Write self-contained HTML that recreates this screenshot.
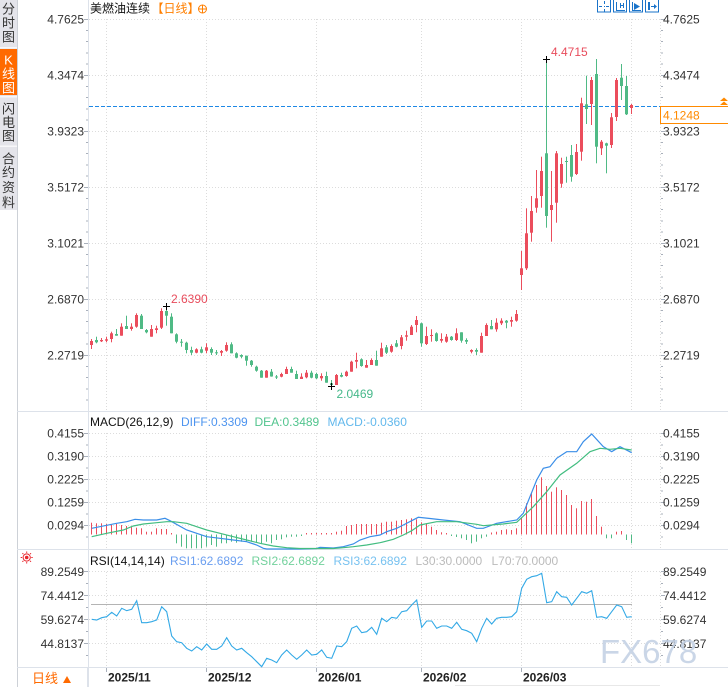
<!DOCTYPE html>
<html><head><meta charset="utf-8"><style>
html,body{margin:0;padding:0;background:#fff;}
body{width:728px;height:687px;overflow:hidden;position:relative;}
svg{position:absolute;left:0;top:0;}
text{font-family:"Liberation Sans","Noto Sans CJK SC",sans-serif;font-size:12px;}
</style></head><body>
<svg width="728" height="687" viewBox="0 0 728 687" xmlns="http://www.w3.org/2000/svg">
<rect x="0" y="0" width="728" height="687" fill="#fff"/>
<!-- sidebar -->
<rect x="0" y="0" width="17" height="210" fill="#e4e4ea"/>
<rect x="0" y="49" width="17" height="46" fill="#ff6a00"/>
<g fill="#f7f7f9"><rect x="0" y="47" width="17" height="1.5"/><rect x="0" y="96" width="17" height="1.5"/><rect x="0" y="145.5" width="17" height="1.5"/></g>
<line x1="17.5" y1="0" x2="17.5" y2="687" stroke="#cdd1d7"/>
<g font-size="13" text-anchor="middle" fill="#333">
<text x="8.5" y="13.5" style="font-size:13px">分</text><text x="8.5" y="27.5" style="font-size:13px">时</text><text x="8.5" y="41.5" style="font-size:13px">图</text>
<text x="8.5" y="64.5" style="font-size:13px" fill="#fff">K</text><text x="8.5" y="78.5" style="font-size:13px" fill="#fff">线</text><text x="8.5" y="92.5" style="font-size:13px" fill="#fff">图</text>
<text x="8.5" y="113.5" style="font-size:13px">闪</text><text x="8.5" y="127" style="font-size:13px">电</text><text x="8.5" y="140.5" style="font-size:13px">图</text>
<text x="8.5" y="163.5" style="font-size:13px">合</text><text x="8.5" y="177" style="font-size:13px">约</text><text x="8.5" y="192" style="font-size:13px">资</text><text x="8.5" y="207" style="font-size:13px">料</text>
</g>
<!-- frame lines -->
<g stroke="#dde2ea" shape-rendering="crispEdges">
<line x1="88.5" y1="0" x2="88.5" y2="687"/>
<line x1="17" y1="411.5" x2="728" y2="411.5"/>
<line x1="17" y1="549.5" x2="728" y2="549.5"/>
<line x1="17" y1="667.5" x2="728" y2="667.5"/>
<line x1="455" y1="685.5" x2="660" y2="685.5" stroke="#e8e8e8"/>
</g>
<!-- grid -->
<g stroke="#dcdcdc" stroke-dasharray="1,2" shape-rendering="crispEdges">
<path d="M89 19.5H660M89 75.5H660M89 131.5H660M89 187.5H660M89 243.5H660M89 299.5H660M89 355.5H660"/>
<path d="M89 433.5H660M89 456.5H660M89 479.5H660M89 502.5H660M89 525.5H660"/>
<path d="M89 571.5H660M89 595.5H660M89 619.5H660M89 643.5H660"/>
<path d="M106.5 19V411M206.5 19V411M316.5 19V411M421.5 19V411M521.5 19V411M631.5 19V411M660.5 19V411"/>
<path d="M106.5 433V549M206.5 433V549M316.5 433V549M421.5 433V549M521.5 433V549M631.5 433V549M660.5 433V549"/>
<path d="M106.5 572V667M206.5 572V667M316.5 572V667M421.5 572V667M521.5 572V667M631.5 572V667M660.5 572V667"/>
</g>
<!-- ticks -->
<g stroke="#a9b0bb" shape-rendering="crispEdges">
<path d="M84 19.5H88M84 75.5H88M84 131.5H88M84 187.5H88M84 243.5H88M84 299.5H88M84 355.5H88M84 433.5H88M84 456.5H88M84 479.5H88M84 502.5H88M84 525.5H88M84 571.5H88M84 595.5H88M84 619.5H88M84 643.5H88"/>
<path d="M86 30.5H88M86 41.5H88M86 53H88M86 64H88M86 86.5H88M86 97.5H88M86 109H88M86 120H88M86 142.5H88M86 153.5H88M86 165H88M86 176H88M86 198.5H88M86 209.5H88M86 221H88M86 232H88M86 254.5H88M86 265.5H88M86 277H88M86 288H88M86 310.5H88M86 321.5H88M86 333H88M86 344H88M86 366.5H88M86 377.5H88M86 389H88M86 400H88M86 445H88M86 468H88M86 491H88M86 514H88M86 537H88M86 583.5H88M86 607.5H88M86 631.5H88M86 655.5H88"/>
<path d="M661 19.5H665M661 75.5H665M661 131.5H665M661 187.5H665M661 243.5H665M661 299.5H665M661 355.5H665M661 433.5H665M661 456.5H665M661 479.5H665M661 502.5H665M661 525.5H665M661 571.5H665M661 595.5H665M661 619.5H665M661 643.5H665"/>
<path d="M661 30.5H663M661 41.5H663M661 53H663M661 64H663M661 86.5H663M661 97.5H663M661 142.5H663M661 153.5H663M661 165H663M661 176H663M661 198.5H663M661 209.5H663M661 221H663M661 232H663M661 254.5H663M661 265.5H663M661 277H663M661 288H663M661 310.5H663M661 321.5H663M661 333H663M661 344H663M661 366.5H663M661 377.5H663M661 389H663M661 400H663M661 445H663M661 468H663M661 491H663M661 514H663M661 537H663M661 583.5H663M661 607.5H663M661 631.5H663M661 655.5H663"/>
<path d="M106.5 668V672M206.5 668V672M316.5 668V672M421.5 668V672M521.5 668V672"/>
</g>
<!-- title -->
<text x="90" y="12.5" fill="#111">美燃油连续</text>
<text x="151.5" y="12.5" fill="#ff7f00">【日线】</text>
<circle cx="202.5" cy="9" r="4" fill="none" stroke="#ff7f00"/>
<path d="M198.5 9H206.5M202.5 5V13" stroke="#ff7f00"/>
<!-- toolbar icons -->
<g fill="none" stroke="#1a73c9" shape-rendering="crispEdges">
<rect x="597.5" y="-0.5" width="13" height="12.5"/>
<rect x="613.5" y="-0.5" width="13" height="12.5"/>
<rect x="629.5" y="-0.5" width="13" height="12.5"/>
<rect x="645.5" y="-0.5" width="13" height="12.5"/>
<path d="M599 6.5H602M606 6.5H609M604.5 1V4M604.5 9V12M604 6.5H605"/>
<path d="M616.5 2V10.5H625M620.5 3V8M623.5 3V8M620.5 5.5H623.5"/>
<path d="M632.5 2V10.5H641"/>
<path d="M648.5 2V10M649.5 2V10M651 6.5H656"/>
</g>
<path d="M634 3L640 6.5L634 10Z" fill="#1a73c9"/>
<path d="M654 4L657 6.5L654 9Z" fill="#1a73c9"/>
<!-- axis labels -->
<g fill="#333" text-anchor="end">
<text x="84" y="23.5">4.7625</text><text x="84" y="79.5">4.3474</text><text x="84" y="135.5">3.9323</text><text x="84" y="191.5">3.5172</text><text x="84" y="247.5">3.1021</text><text x="84" y="303.5">2.6870</text><text x="84" y="359.5">2.2719</text>
<text x="84" y="437.5">0.4155</text><text x="84" y="460.5">0.3190</text><text x="84" y="483.5">0.2225</text><text x="84" y="506.5">0.1259</text><text x="84" y="529.5">0.0294</text>
<text x="84" y="576">89.2549</text><text x="84" y="600">74.4412</text><text x="84" y="624">59.6274</text><text x="84" y="648">44.8137</text>
</g>
<g fill="#333">
<text x="663" y="23.5">4.7625</text><text x="663" y="79.5">4.3474</text><text x="663" y="135.5">3.9323</text><text x="663" y="191.5">3.5172</text><text x="663" y="247.5">3.1021</text><text x="663" y="303.5">2.6870</text><text x="663" y="359.5">2.2719</text>
<text x="663" y="437.5">0.4155</text><text x="663" y="460.5">0.3190</text><text x="663" y="483.5">0.2225</text><text x="663" y="506.5">0.1259</text><text x="663" y="529.5">0.0294</text>
<text x="663" y="576">89.2549</text><text x="663" y="600">74.4412</text><text x="663" y="624">59.6274</text><text x="663" y="648">44.8137</text>
</g>
<!-- current price -->
<line x1="89" y1="106.5" x2="660" y2="106.5" stroke="#1e88e5" stroke-dasharray="4,2"/>
<rect x="660.5" y="106.5" width="70" height="17" fill="#fff" stroke="#ff8a00"/>
<text x="663" y="119.5" fill="#ff8a00">4.1248</text>
<path d="M720 101L724 97.5L728 101ZM720 105L724 101.5L728 105Z" fill="#ff8a00"/>
<!-- candles red -->
<g fill="#eb4d5c">
<rect x="91" y="339" width="1" height="10"/><rect x="90" y="341" width="3" height="4"/>
<rect x="101" y="338" width="1" height="4"/><rect x="100" y="340" width="3" height="1.3"/>
<rect x="106" y="336.7" width="1" height="5.6"/><rect x="105" y="339.3" width="3" height="1.4"/>
<rect x="111" y="331.7" width="1" height="10.6"/><rect x="110" y="333.3" width="3" height="5.7"/>
<rect x="121" y="323.3" width="1" height="12.4"/><rect x="120" y="326.7" width="3" height="9"/>
<rect x="131" y="323.3" width="1" height="7.4"/><rect x="130" y="326.7" width="3" height="2.3"/>
<rect x="136" y="313.3" width="1" height="14.4"/><rect x="135" y="315" width="3" height="11.7"/>
<rect x="151" y="325" width="1" height="11.7"/><rect x="150" y="329" width="3" height="7.7"/>
<rect x="156" y="325.7" width="1" height="7.6"/><rect x="155" y="328.3" width="3" height="1.7"/>
<rect x="161" y="308.3" width="1" height="20.7"/><rect x="160" y="311" width="3" height="16.7"/>
<rect x="196" y="348.3" width="1" height="5"/><rect x="195" y="349.3" width="3" height="3.4"/>
<rect x="206" y="343.3" width="1" height="10"/><rect x="205" y="347.3" width="3" height="3.4"/>
<rect x="221" y="350" width="1" height="6"/><rect x="220" y="351" width="3" height="1.7"/>
<rect x="226" y="342.3" width="1" height="9.4"/><rect x="225" y="345" width="3" height="5.7"/>
<rect x="266" y="370" width="1" height="7.7"/><rect x="265" y="370.7" width="3" height="7"/>
<rect x="281" y="372.7" width="1" height="4.6"/><rect x="280" y="374" width="3" height="2.7"/>
<rect x="286" y="366.7" width="1" height="7.3"/><rect x="285" y="369" width="3" height="5"/>
<rect x="301" y="373.3" width="1" height="5.7"/><rect x="300" y="376.7" width="3" height="2.3"/>
<rect x="306" y="370" width="1" height="8.3"/><rect x="305" y="372.7" width="3" height="4.6"/>
<rect x="321" y="373.3" width="1" height="7.4"/><rect x="320" y="376" width="3" height="2.3"/>
<rect x="336" y="374" width="1" height="11"/><rect x="335" y="375" width="3" height="10"/>
<rect x="346" y="370.7" width="1" height="6"/><rect x="345" y="371.7" width="3" height="4.3"/>
<rect x="351" y="360.7" width="1" height="11"/><rect x="350" y="361.7" width="3" height="10"/>
<rect x="356" y="352.7" width="1" height="15.6"/><rect x="355" y="360" width="3" height="1.7"/>
<rect x="366" y="360" width="1" height="7.7"/><rect x="365" y="365" width="3" height="2.7"/>
<rect x="371" y="358.3" width="1" height="6.7"/><rect x="370" y="360" width="3" height="5"/>
<rect x="381" y="342.7" width="1" height="14"/><rect x="380" y="348.3" width="3" height="8.4"/>
<rect x="391" y="344.3" width="1" height="8.4"/><rect x="390" y="346" width="3" height="5.7"/>
<rect x="401" y="335" width="1" height="14.3"/><rect x="400" y="337.3" width="3" height="8.7"/>
<rect x="406" y="330.7" width="1" height="10"/><rect x="405" y="335.3" width="3" height="1.4"/>
<rect x="411" y="325" width="1" height="10"/><rect x="410" y="326.7" width="3" height="8.3"/>
<rect x="416" y="316" width="1" height="16.3"/><rect x="415" y="320" width="3" height="5"/>
<rect x="426" y="326.7" width="1" height="18.3"/><rect x="425" y="336" width="3" height="8"/>
<rect x="431" y="329.3" width="1" height="12.4"/><rect x="430" y="335" width="3" height="1"/>
<rect x="441" y="333.3" width="1" height="9.4"/><rect x="440" y="339" width="3" height="1.7"/>
<rect x="446" y="334" width="1" height="8.7"/><rect x="445" y="336.7" width="3" height="5"/>
<rect x="456" y="328.3" width="1" height="12.7"/><rect x="455" y="333.3" width="3" height="6.7"/>
<rect x="471" y="349.3" width="1" height="4"/><rect x="470" y="350" width="3" height="1.7"/>
<rect x="481" y="332.7" width="1" height="20"/><rect x="480" y="336" width="3" height="16.7"/>
<rect x="486" y="323.3" width="1" height="12.7"/><rect x="485" y="325" width="3" height="11"/>
<rect x="496" y="318.3" width="1" height="13.4"/><rect x="495" y="322.7" width="3" height="6.6"/>
<rect x="501" y="318.3" width="1" height="6.7"/><rect x="500" y="320.7" width="3" height="2.6"/>
<rect x="511" y="316.7" width="1" height="10"/><rect x="510" y="320" width="3" height="1.7"/>
<rect x="516" y="310" width="1" height="11.7"/><rect x="515" y="314" width="3" height="6.7"/>
<rect x="521" y="251" width="1" height="39"/><rect x="520" y="268.3" width="3" height="6.7"/>
<rect x="526" y="208.3" width="1" height="61.7"/><rect x="525" y="233.3" width="3" height="35"/>
<rect x="531" y="196" width="1" height="45.7"/><rect x="530" y="211" width="3" height="21.7"/>
<rect x="536" y="170" width="1" height="42.7"/><rect x="535" y="198.3" width="3" height="9.4"/>
<rect x="541" y="156.7" width="1" height="51"/><rect x="540" y="171" width="3" height="25"/>
<rect x="551" y="171" width="1" height="70.7"/><rect x="550" y="205" width="3" height="5"/>
<rect x="556" y="151" width="1" height="71.7"/><rect x="555" y="153.3" width="3" height="49.4"/>
<rect x="561" y="157.7" width="1" height="30"/><rect x="560" y="164" width="3" height="19.7"/>
<rect x="576" y="144" width="1" height="31"/><rect x="575" y="152" width="3" height="22"/>
<rect x="581" y="97.7" width="1" height="63"/><rect x="580" y="103.3" width="3" height="48.4"/>
<rect x="591" y="77" width="1" height="48"/><rect x="590" y="80" width="3" height="24"/>
<rect x="601" y="140" width="1" height="15"/><rect x="600" y="141.7" width="3" height="6.6"/>
<rect x="611" y="113" width="1" height="35"/><rect x="610" y="117.3" width="3" height="27.7"/>
<rect x="616" y="78" width="1" height="43"/><rect x="615" y="80" width="3" height="37"/>
<rect x="631" y="104" width="1" height="10"/><rect x="630" y="105" width="3" height="3"/>
</g>
<!-- candles green -->
<g fill="#4fba85">
<rect x="96" y="336.7" width="1" height="6.6"/><rect x="95" y="340" width="3" height="2.3"/>
<rect x="116" y="329" width="1" height="6.7"/><rect x="115" y="334" width="3" height="1.7"/>
<rect x="126" y="315.7" width="1" height="13.3"/><rect x="125" y="326" width="3" height="3"/>
<rect x="141" y="314" width="1" height="15"/><rect x="140" y="315.7" width="3" height="13.3"/>
<rect x="146" y="329" width="1" height="4.3"/><rect x="145" y="330" width="3" height="2.3"/>
<rect x="166" y="306.7" width="1" height="19"/><rect x="165" y="311" width="3" height="4.7"/>
<rect x="171" y="313.3" width="1" height="20"/><rect x="170" y="316.7" width="3" height="16.6"/>
<rect x="176" y="333.3" width="1" height="10"/><rect x="175" y="334.3" width="3" height="7.4"/>
<rect x="181" y="339" width="1" height="7.7"/><rect x="180" y="341.7" width="3" height="1"/>
<rect x="186" y="341.7" width="1" height="11.6"/><rect x="185" y="342.7" width="3" height="7.3"/>
<rect x="191" y="346.7" width="1" height="8.3"/><rect x="190" y="350" width="3" height="2.7"/>
<rect x="201" y="346.7" width="1" height="6.6"/><rect x="200" y="349.3" width="3" height="3.4"/>
<rect x="211" y="347.3" width="1" height="7.7"/><rect x="210" y="349" width="3" height="3.7"/>
<rect x="216" y="350" width="1" height="5"/><rect x="215" y="352.3" width="3" height="1"/>
<rect x="231" y="342.3" width="1" height="11"/><rect x="230" y="344.3" width="3" height="9"/>
<rect x="236" y="352.3" width="1" height="6"/><rect x="235" y="353.3" width="3" height="4.4"/>
<rect x="241" y="354.3" width="1" height="4"/><rect x="240" y="355" width="3" height="1.7"/>
<rect x="246" y="355.7" width="1" height="10"/><rect x="245" y="355.7" width="3" height="5"/>
<rect x="251" y="360" width="1" height="6.7"/><rect x="250" y="360.7" width="3" height="4.3"/>
<rect x="256" y="365.7" width="1" height="6"/><rect x="255" y="366.7" width="3" height="4"/>
<rect x="261" y="370" width="1" height="7.7"/><rect x="260" y="370.7" width="3" height="7"/>
<rect x="271" y="369" width="1" height="7.7"/><rect x="270" y="371.7" width="3" height="4.8"/>
<rect x="276" y="375" width="1" height="4"/><rect x="275" y="376.5" width="3" height="1"/>
<rect x="291" y="366.7" width="1" height="6"/><rect x="290" y="369" width="3" height="3.7"/>
<rect x="296" y="370.7" width="1" height="8.3"/><rect x="295" y="374" width="3" height="5"/>
<rect x="311" y="370.7" width="1" height="7.6"/><rect x="310" y="372.7" width="3" height="5"/>
<rect x="316" y="372.7" width="1" height="6.3"/><rect x="315" y="374" width="3" height="4.3"/>
<rect x="326" y="371.7" width="1" height="11"/><rect x="325" y="376" width="3" height="6.7"/>
<rect x="331" y="380" width="1" height="6.7"/><rect x="330" y="383.3" width="3" height="1.7"/>
<rect x="341" y="372.7" width="1" height="4.6"/><rect x="340" y="375" width="3" height="1.7"/>
<rect x="361" y="358.3" width="1" height="8.4"/><rect x="360" y="359.3" width="3" height="6.7"/>
<rect x="376" y="350.7" width="1" height="15"/><rect x="375" y="360" width="3" height="5.7"/>
<rect x="386" y="345" width="1" height="9"/><rect x="385" y="347.3" width="3" height="5.4"/>
<rect x="396" y="340" width="1" height="7.3"/><rect x="395" y="343.3" width="3" height="3.4"/>
<rect x="421" y="322.7" width="1" height="24"/><rect x="420" y="323.3" width="3" height="20"/>
<rect x="436" y="332.3" width="1" height="9.4"/><rect x="435" y="333.3" width="3" height="7.7"/>
<rect x="451" y="336" width="1" height="4.7"/><rect x="450" y="336.7" width="3" height="3.3"/>
<rect x="461" y="332.3" width="1" height="10.4"/><rect x="460" y="332.3" width="3" height="8.4"/>
<rect x="466" y="338.3" width="1" height="5.7"/><rect x="465" y="340" width="3" height="1.7"/>
<rect x="476" y="348.3" width="1" height="6.7"/><rect x="475" y="350" width="3" height="1.7"/>
<rect x="491" y="320" width="1" height="9.3"/><rect x="490" y="326" width="3" height="3.3"/>
<rect x="506" y="320" width="1" height="8.3"/><rect x="505" y="320.7" width="3" height="2"/>
<rect x="546" y="59" width="1" height="168.7"/><rect x="545" y="153.3" width="3" height="62.7"/>
<rect x="566" y="156.7" width="1" height="26"/><rect x="565" y="161" width="3" height="1"/>
<rect x="571" y="145" width="1" height="36.7"/><rect x="570" y="155" width="3" height="21.7"/>
<rect x="586" y="75.7" width="1" height="48.3"/><rect x="585" y="104.3" width="3" height="4.7"/>
<rect x="596" y="59" width="1" height="104.3"/><rect x="595" y="74" width="3" height="72.7"/>
<rect x="606" y="142.7" width="1" height="30.6"/><rect x="605" y="143.3" width="3" height="2.4"/>
<rect x="621" y="64" width="1" height="36"/><rect x="620" y="77.7" width="3" height="8.3"/>
<rect x="626" y="76" width="1" height="39"/><rect x="625" y="86" width="3" height="28.3"/>
</g>
<!-- max/min markers -->
<g stroke="#000" shape-rendering="crispEdges">
<path d="M543 59.5H550M546.5 56V63"/>
<path d="M163 306.5H170M166.5 303V310"/>
<path d="M328 386.5H335M331.5 383V390"/>
</g>
<text x="551" y="56" fill="#e84c5c">4.4715</text>
<text x="171" y="303" fill="#e84c5c">2.6390</text>
<text x="336.5" y="398" fill="#45b88a">2.0469</text>
<!-- MACD header -->
<text x="90" y="426" fill="#111">MACD(26,12,9)</text>
<text x="181" y="426" fill="#4d94ef">DIFF:0.3309</text>
<text x="254.5" y="426" fill="#52c48e">DEA:0.3489</text>
<text x="327.5" y="426" fill="#62b8ec">MACD:-0.0360</text>
<!-- MACD histogram -->
<g fill="#eb4d5c">
<rect x="91" y="522.7" width="1" height="11.8"/><rect x="96" y="523.3" width="1" height="11.2"/><rect x="101" y="523.3" width="1" height="11.2"/><rect x="106" y="524" width="1" height="10.5"/><rect x="111" y="525" width="1" height="9.5"/><rect x="116" y="524" width="1" height="10.5"/><rect x="121" y="525" width="1" height="9.5"/><rect x="126" y="526" width="1" height="8.5"/><rect x="131" y="526.7" width="1" height="7.8"/><rect x="136" y="527.7" width="1" height="6.8"/><rect x="141" y="528.3" width="1" height="6.2"/><rect x="146" y="531.7" width="1" height="2.8"/><rect x="151" y="531.7" width="1" height="2.8"/><rect x="156" y="528.3" width="1" height="6.2"/><rect x="161" y="529" width="1" height="5.5"/><rect x="166" y="529" width="1" height="5.5"/><rect x="171" y="533" width="1" height="1.5"/>
<rect x="306" y="533" width="1" height="1.5"/><rect x="311" y="533" width="1" height="1.5"/><rect x="316" y="533" width="1" height="1.5"/><rect x="321" y="533" width="1" height="1.5"/><rect x="326" y="533" width="1" height="1.5"/><rect x="331" y="533" width="1" height="1.5"/><rect x="336" y="531.7" width="1" height="2.8"/><rect x="341" y="530.7" width="1" height="3.8"/><rect x="346" y="526" width="1" height="8.5"/><rect x="351" y="525" width="1" height="9.5"/><rect x="356" y="524" width="1" height="10.5"/><rect x="361" y="524" width="1" height="10.5"/><rect x="366" y="524" width="1" height="10.5"/><rect x="371" y="524" width="1" height="10.5"/><rect x="376" y="524" width="1" height="10.5"/><rect x="381" y="522.7" width="1" height="11.8"/><rect x="386" y="521.7" width="1" height="12.8"/><rect x="391" y="521.7" width="1" height="12.8"/><rect x="396" y="520.7" width="1" height="13.8"/><rect x="401" y="520" width="1" height="14.5"/><rect x="406" y="519.3" width="1" height="15.2"/><rect x="411" y="518.3" width="1" height="16.2"/><rect x="416" y="519.3" width="1" height="15.2"/><rect x="421" y="522.3" width="1" height="12.2"/><rect x="426" y="523.3" width="1" height="11.2"/><rect x="431" y="526.7" width="1" height="7.8"/><rect x="436" y="530" width="1" height="4.5"/><rect x="441" y="532.3" width="1" height="2.2"/><rect x="446" y="533" width="1" height="1.5"/>
<rect x="491" y="532.5" width="1" height="2"/><rect x="496" y="531.7" width="1" height="2.8"/><rect x="501" y="530" width="1" height="4.5"/><rect x="506" y="529.3" width="1" height="5.2"/><rect x="511" y="530" width="1" height="4.5"/><rect x="516" y="528.3" width="1" height="6.2"/><rect x="521" y="517.3" width="1" height="17.2"/><rect x="526" y="503.3" width="1" height="31.2"/><rect x="531" y="493.3" width="1" height="41.2"/><rect x="536" y="485" width="1" height="49.5"/><rect x="541" y="477.3" width="1" height="57.2"/><rect x="546" y="486" width="1" height="48.5"/><rect x="551" y="491.7" width="1" height="42.8"/><rect x="556" y="487.3" width="1" height="47.2"/><rect x="561" y="490" width="1" height="44.5"/><rect x="566" y="495" width="1" height="39.5"/><rect x="571" y="505" width="1" height="29.5"/><rect x="576" y="508.3" width="1" height="26.2"/><rect x="581" y="501" width="1" height="33.5"/><rect x="586" y="501.7" width="1" height="32.8"/><rect x="591" y="499" width="1" height="35.5"/><rect x="596" y="516" width="1" height="18.5"/><rect x="601" y="526.7" width="1" height="7.8"/><rect x="616" y="531.7" width="1" height="2.8"/><rect x="621" y="531" width="1" height="3.5"/>
</g>
<g fill="#4fba85">
<rect x="176" y="534.5" width="1" height="8.8"/><rect x="181" y="534.5" width="1" height="12.2"/><rect x="186" y="534.5" width="1" height="13.8"/><rect x="191" y="534.5" width="1" height="13.8"/><rect x="196" y="534.5" width="1" height="13.8"/><rect x="201" y="534.5" width="1" height="13.8"/><rect x="206" y="534.5" width="1" height="12.2"/><rect x="211" y="534.5" width="1" height="10.5"/><rect x="216" y="534.5" width="1" height="12.2"/><rect x="221" y="534.5" width="1" height="8.8"/><rect x="226" y="534.5" width="1" height="8.8"/><rect x="231" y="534.5" width="1" height="7.2"/><rect x="236" y="534.5" width="1" height="8.2"/><rect x="241" y="534.5" width="1" height="7.2"/><rect x="246" y="534.5" width="1" height="7.2"/><rect x="251" y="534.5" width="1" height="7.2"/><rect x="256" y="534.5" width="1" height="8.2"/><rect x="261" y="534.5" width="1" height="8.8"/><rect x="266" y="534.5" width="1" height="7.2"/><rect x="271" y="534.5" width="1" height="8.8"/><rect x="276" y="534.5" width="1" height="5.5"/><rect x="281" y="534.5" width="1" height="4.8"/><rect x="286" y="534.5" width="1" height="2.8"/><rect x="291" y="534.5" width="1" height="2.2"/><rect x="296" y="534.5" width="1" height="2.2"/><rect x="301" y="534.5" width="1" height="1.5"/>
<rect x="451" y="534.5" width="1" height="1.5"/><rect x="456" y="534.5" width="1" height="2.5"/><rect x="461" y="534.5" width="1" height="3.8"/><rect x="466" y="534.5" width="1" height="5.5"/><rect x="471" y="534.5" width="1" height="8.8"/><rect x="476" y="534.5" width="1" height="7.2"/><rect x="481" y="534.5" width="1" height="3.8"/><rect x="486" y="534.5" width="1" height="2.2"/>
<rect x="606" y="534.5" width="1" height="3.8"/><rect x="611" y="534.5" width="1" height="3.8"/><rect x="626" y="534.5" width="1" height="5.5"/><rect x="631" y="534.5" width="1" height="8.8"/>
</g>
<!-- DIFF / DEA -->
<polyline fill="none" stroke="#3a8ee8" stroke-width="1.2" points="91.7,528.3 116.7,523.3 126.7,521.7 135,519.3 143.3,520 156.7,520 165,518.3 170,520.7 186.7,530 196.7,533.3 206.7,536.7 220,538.3 233.3,540 246.7,541.7 256.7,545 263.3,548.3 266.7,549 300,549 316.7,548.5 320,547.3 333.3,548 343.3,546.7 353.3,544 360,540 370,536.7 380,535 386.7,531.7 396.7,528.3 403.3,525 411.7,520.7 418.3,517.3 430,518.5 443.3,520 460,521.7 476.7,528.3 483.3,528.3 496.7,523.3 516.7,520 523.3,513.3 536.7,480 543.3,468.3 550,466.7 556.7,458.3 566.7,451.7 576.7,451.7 583.3,441.7 591.7,434 603.3,446.7 611.7,451.7 620,446.7 631.7,452.7"/>
<polyline fill="none" stroke="#42bd80" stroke-width="1.2" points="91.7,536.7 106.7,533.3 123.3,530 133.3,526 143.3,524 156.7,522.7 166.7,521.7 173.3,521.7 186.7,523.3 196.7,526.7 206.7,530 220,533.3 233.3,536.7 246.7,540 260,543.3 273.3,546 286.7,547.7 300,548.5 333.3,548.5 343.3,547.7 353.3,546.7 366.7,545 380,542.7 393.3,539.3 403.3,535 411.7,530.7 420,525 436.7,521.7 456.7,521.7 476.7,524.3 483.3,525.7 503,524 516.7,522.3 533.3,506.7 546.7,491.7 560,475 576.7,463.3 590,451.7 600,448.3 610,449.3 620,448.3 631.7,450"/>
<!-- RSI header -->
<g transform="translate(26.7,557.5)" stroke="#e8232a" fill="none">
<circle r="3.6" stroke-width="1"/><circle r="1.8" fill="#e8232a" stroke="none"/>
<path d="M0 -6V-4.6M0 4.6V6M-6 0H-4.6M4.6 0H6M-4.3 -4.3L-3.3 -3.3M3.3 3.3L4.3 4.3M4.3 -4.3L3.3 -3.3M-3.3 3.3L-4.3 4.3"/>
</g>
<text x="90" y="565" fill="#111">RSI(14,14,14)</text>
<text x="170" y="565" fill="#6a9ef0">RSI1:62.6892</text>
<text x="251.5" y="565" fill="#72d19c">RSI2:62.6892</text>
<text x="333.5" y="565" fill="#78c2f0">RSI3:62.6892</text>
<text x="415.5" y="565" fill="#bbb">L30:30.0000</text>
<text x="491.5" y="565" fill="#bbb">L70:70.0000</text>
<line x1="91" y1="604.5" x2="632" y2="604.5" stroke="#b4b4b4"/>
<polyline fill="none" stroke="#33a9e6" stroke-width="1.1" points="91.7,619.3 96.7,620 101.7,617.7 106.7,616.7 111.7,612.3 116.7,616 121.7,608.3 126.7,610.7 131.7,609.3 136.7,600.7 141.7,622.7 146.7,622.7 151.7,621.7 156.7,620 161.7,606.7 166.7,611.7 171.7,636 176.7,641.7 181.7,642.7 186.7,648.3 191.7,651 196.7,646.7 201.7,650 206.7,644 211.7,649.3 216.7,649.3 221.7,646 226.7,637.7 231.7,646 236.7,650 241.7,648.3 246.7,652.7 251.7,656.7 256.7,661.7 261.7,666.7 266.7,658.3 271.7,660 276.7,662.7 281.7,655 286.7,650 291.7,655 296.7,659.3 301.7,655 306.7,650 311.7,655 316.7,654.3 321.7,650 326.7,657.3 331.7,658.3 336.7,646 341.7,646.7 346.7,641.7 351.7,628.3 356.7,626 361.7,632.7 366.7,631.7 371.7,627.3 376.7,634.3 381.7,618.3 386.7,621.7 391.7,617.3 396.7,618.3 401.7,611.7 406.7,610.7 411.7,605 416.7,600 421.7,627.3 426.7,621 431.7,621 436.7,628.3 441.7,626 446.7,626 451.7,628.3 456.7,622.3 461.7,629.3 466.7,630.7 471.7,633.3 476.7,641.7 481.7,628.3 486.7,618.3 491.7,624 496.7,618.3 501.7,617.3 506.7,617.3 511.7,616.7 516.7,611.7 521.7,588.3 526.7,579.3 531.7,576.7 536.7,575.7 541.7,573.3 546.7,602.7 551.7,601.7 556.7,591.7 561.7,596.7 566.7,597.3 571.7,605 576.7,598.3 581.7,591.7 586.7,593.3 591.7,590.7 596.7,617.3 601.7,616.7 606.7,618.3 611.7,611.7 616.7,605 621.7,606.7 626.7,617.3 631.7,616.7"/>
<!-- watermark -->
<text x="600" y="663" fill="#c4d1e4" fill-opacity="0.9" style="font-size:33px">FX678</text>
<!-- date axis -->
<line x1="87.5" y1="668" x2="87.5" y2="687" stroke="#dde2ea"/>
<g fill="#222" font-weight="bold">
<text x="108" y="681.5" font-weight="bold">2025/11</text>
<text x="208" y="681.5" font-weight="bold">2025/12</text>
<text x="318" y="681.5" font-weight="bold">2026/01</text>
<text x="423" y="681.5" font-weight="bold">2026/02</text>
<text x="523" y="681.5" font-weight="bold">2026/03</text>
</g>
<text x="32" y="683" fill="#ff6a00" style="font-size:13px">日线</text>
<path d="M63 683L71 683L67 676Z" fill="#ff6a00"/>
</svg>
</body></html>
